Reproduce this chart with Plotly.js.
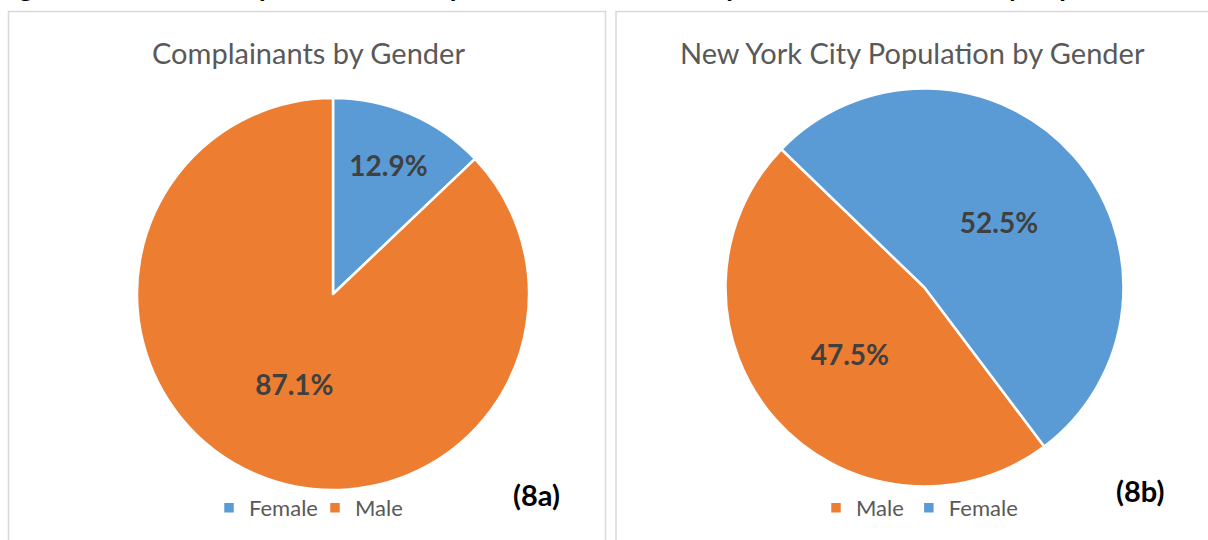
<!DOCTYPE html>
<html>
<head>
<meta charset="utf-8">
<script src="https://cdn.plot.ly/plotly-3.0.1.min.js"></script>
<style>
  html, body { margin: 0; padding: 0; background: #ffffff; }
  #chart { width: 1208px; height: 540px; }
</style>
</head>
<body>
<div id="chart"></div>
<script>
// ---- data ----
const complainantLabels = ["Female", "Male"];
const complainantValues = [12.9, 87.1];
const nycLabels = ["Male", "Female"];
const nycValues = [47.5, 52.5];
const genderColors = { "Female": "#5B9BD5", "Male": "#ED7D31" };

const chartTitles = ["Complainants by Gender", "New York City Population by Gender"];
const panelTags = ["(8a)", "(8b)"];
const figureTitle = "Figure 8: Gender Composition of Complainants in CCRB Complaints vs. New York City Population";

const W = 1208, H = 540;
const px = x => x / W;
const py = y => 1 - y / H;

const FONT = "Lato, 'Open Sans', sans-serif";

// suffix keeps the second pie's legend entries separate from the first pie's (pie legends dedupe by label)
function pieTrace(labels, values, rotation, dom, legendId, suffix) {
  return {
    type: "pie",
    labels: labels.map(l => l + suffix),
    values: values,
    marker: { colors: labels.map(l => genderColors[l]), line: { color: "#ffffff", width: 2.5 } },
    sort: false,
    direction: "clockwise",
    rotation: rotation,
    textinfo: "percent",
    texttemplate: "%{value:.1f}%",
    textposition: "inside",
    insidetextorientation: "horizontal",
    insidetextfont: { family: FONT, size: 28, color: "#404040", weight: "bold" },
    hoverinfo: "label+percent",
    domain: dom,
    legend: legendId,
    showlegend: true
  };
}

const traceA = pieTrace(complainantLabels, complainantValues, 0,
  { x: [px(137), px(529)], y: [py(490), py(98)] }, "legend", "");
const traceB = pieTrace(nycLabels, nycValues, 143,
  { x: [px(725.5), px(1123.5)], y: [py(486.5), py(88.5)] }, "legend2", "\u200B");

const legendBase = {
  orientation: "h",
  yanchor: "middle",
  font: { family: FONT, size: 22, color: "#595959" },
  bgcolor: "rgba(0,0,0,0)",
  itemwidth: 30,
  tracegroupgap: 0,
  xanchor: "left"
};

const layout = {
  width: W,
  height: H,
  margin: { l: 0, r: 0, t: 0, b: 0 },
  paper_bgcolor: "#ffffff",
  plot_bgcolor: "#ffffff",
  showlegend: true,
  legend: Object.assign({}, legendBase, { x: px(209), y: py(508), entrywidthmode: "pixels", entrywidth: 61 }),
  legend2: Object.assign({}, legendBase, { x: px(816), y: py(508) }),
  shapes: [
    { type: "rect", xref: "paper", yref: "paper", x0: px(8.5), x1: px(605.5), y0: py(545), y1: py(11.5),
      line: { color: "#D9D9D9", width: 1.5 }, fillcolor: "rgba(0,0,0,0)" },
    { type: "rect", xref: "paper", yref: "paper", x0: px(616), x1: px(1215), y0: py(545), y1: py(11.5),
      line: { color: "#D9D9D9", width: 1.5 }, fillcolor: "rgba(0,0,0,0)" }
  ],
  annotations: [
    { text: chartTitles[0], xref: "paper", yref: "paper", x: px(308), y: py(52), xanchor: "center", yanchor: "middle",
      showarrow: false, font: { family: FONT, size: 29, color: "#595959" } },
    { text: chartTitles[1], xref: "paper", yref: "paper", x: px(913), y: py(52), xanchor: "center", yanchor: "middle",
      showarrow: false, font: { family: FONT, size: 29, color: "#595959" } },
    { text: "<b>" + panelTags[0] + "</b>", xref: "paper", yref: "paper", x: px(536), y: py(494), xanchor: "center", yanchor: "middle",
      showarrow: false, font: { family: FONT, size: 29, color: "#000000" } },
    { text: "<b>" + panelTags[1] + "</b>", xref: "paper", yref: "paper", x: px(1140), y: py(490), xanchor: "center", yanchor: "middle",
      showarrow: false, font: { family: FONT, size: 29, color: "#000000" } },
    { text: "<b>" + figureTitle + "</b>", xref: "paper", yref: "paper", x: px(-5), y: py(-13), xanchor: "left", yanchor: "middle",
      showarrow: false, font: { family: FONT, size: 27, color: "#000000" } }
  ]
};

Plotly.newPlot("chart", [traceA, traceB], layout, { displayModeBar: false, staticPlot: true });
</script>
</body>
</html>
